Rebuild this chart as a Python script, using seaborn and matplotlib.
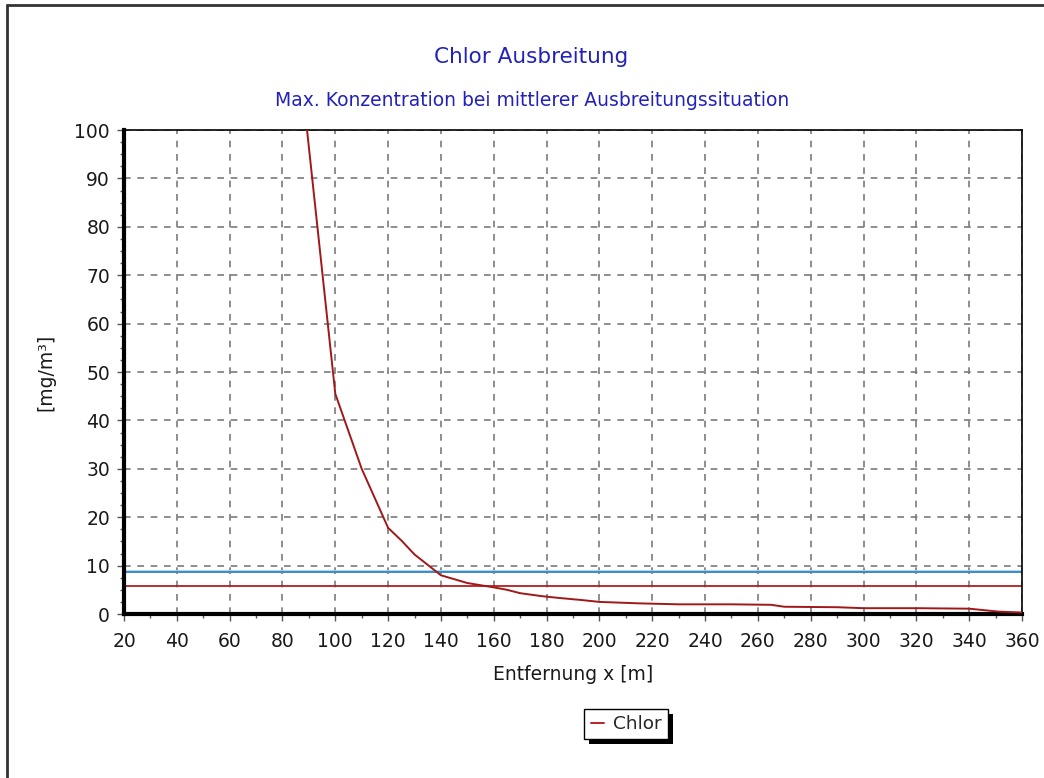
import matplotlib
matplotlib.use("Agg")
import matplotlib.pyplot as plt
import seaborn as sns
import pandas as pd
from matplotlib.ticker import MultipleLocator
from matplotlib.lines import Line2D
from matplotlib.patches import Rectangle

# Data
distance_m = [89.3, 100, 110, 120, 125, 130, 140, 150, 160, 165, 170, 178, 185, 193,
              200, 215, 230, 250, 265, 270, 290, 300, 320, 340, 351, 360]
concentration = [100, 45.5, 30.0, 17.8, 15.2, 12.3, 8.0, 6.4, 5.5, 5.0, 4.3, 3.7, 3.3, 2.9,
                 2.5, 2.2, 2.0, 2.0, 1.9, 1.5, 1.4, 1.2, 1.2, 1.1, 0.5, 0.3]
threshold_cyan = 8.9
threshold_blue = 8.6
threshold_red = 5.8

title = "Chlor Ausbreitung"
subtitle = "Max. Konzentration bei mittlerer Ausbreitungssituation"
xlabel = "Entfernung x [m]"
ylabel = "[mg/m³]"
series_name = "Chlor"

sns.set_style("white")
plt.rcParams['font.family'] = ['DejaVu Sans']

fig = plt.figure(figsize=(10.44, 7.78), dpi=100)
ax = fig.add_axes([124/1044, 1-614/778, (1022-124)/1044, (614-130)/778])

df = pd.DataFrame({"x": distance_m, "y": concentration})
ax.axhline(threshold_cyan, color="#8fdcf0", lw=2.0, zorder=2)
ax.axhline(threshold_blue, color="#3a78c0", lw=1.2, zorder=2)
ax.axhline(threshold_red, color="#b02020", lw=1.3, zorder=2)
sns.lineplot(data=df, x="x", y="y", ax=ax, color="#a01818", lw=1.4, zorder=3,
             label=series_name, legend=False)

ax.set_xlim(20, 360)
ax.set_ylim(0, 100)
ax.xaxis.set_major_locator(MultipleLocator(20))
ax.xaxis.set_minor_locator(MultipleLocator(10))
ax.yaxis.set_major_locator(MultipleLocator(10))
ax.yaxis.set_minor_locator(MultipleLocator(2.5))
ax.grid(True, which="major", color="#7a7a7a", ls=(0, (4, 4)), lw=1.2)
ax.tick_params(which="major", direction="out", length=5, width=1, color="#555555",
               labelsize=13.5, labelcolor="#1a1a1a", pad=5, bottom=True, left=True)
ax.tick_params(axis="x", which="major", pad=8)
ax.tick_params(which="minor", direction="out", length=3, width=1, color="#555555",
               bottom=True, left=True)

for s in ["top", "right"]:
    ax.spines[s].set_linewidth(1.2)
    ax.spines[s].set_color("black")
for s in ["left", "bottom"]:
    ax.spines[s].set_linewidth(3)
    ax.spines[s].set_color("black")

ax.set_xlabel(xlabel, fontsize=13.5, color="#1a1a1a", labelpad=10)
ax.set_ylabel(ylabel, fontsize=13.5, color="#1a1a1a", labelpad=14)

fig.text(531/1044, 1-57/778, title, ha="center", va="center", fontsize=15.5, color="#2222bb")
fig.text(532/1044, 1-101/778, subtitle, ha="center", va="center", fontsize=13.5, color="#2222bb")

handle = Line2D([], [], color="#c02020", lw=1.4)
leg = ax.legend([handle], [series_name], loc="center", bbox_to_anchor=(626/1044, 1-724/778),
                bbox_transform=fig.transFigure, frameon=True, fancybox=False,
                fontsize=13.3, handlelength=0.7, handletextpad=0.5, borderpad=0.35)
leg.get_frame().set_edgecolor("black")
leg.get_frame().set_linewidth(1.0)
leg.get_frame().set_alpha(1)

# draw black drop shadow behind legend box
fig.canvas.draw()
bb = leg.get_window_extent()
fig.add_artist(Rectangle((bb.x0 + 5, bb.y0 - 5), bb.width, bb.height, transform=None,
                         facecolor="black", edgecolor="none", zorder=-1))

# outer frame lines (top and left)
fig.add_artist(Line2D([7/1044, 1], [1-5/778, 1-5/778], color="#333333", lw=2, transform=fig.transFigure))
fig.add_artist(Line2D([7/1044, 7/1044], [0, 1-5/778], color="#333333", lw=2, transform=fig.transFigure))

fig.savefig("out.png", dpi=100)
